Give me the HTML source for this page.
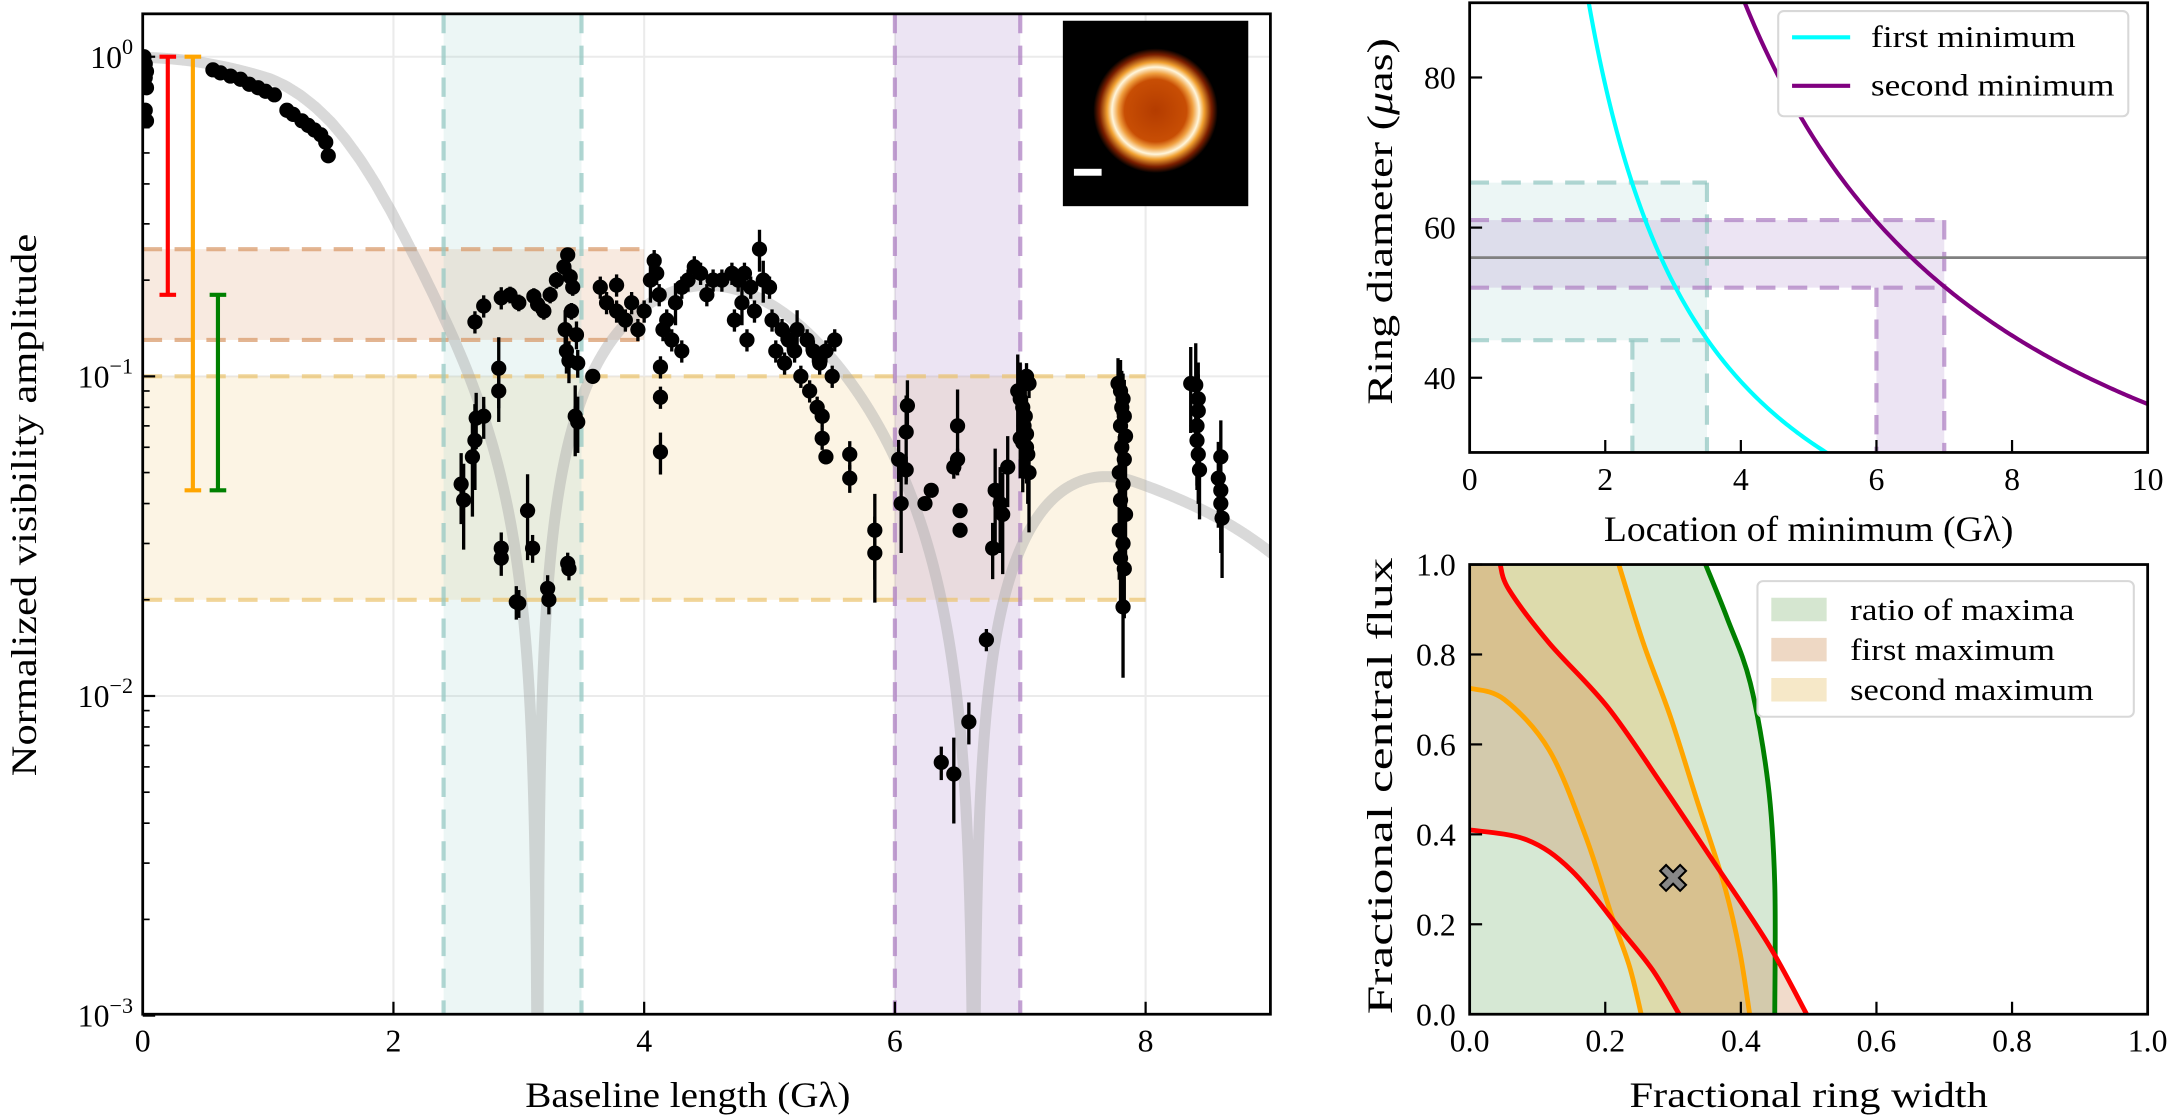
<!DOCTYPE html>
<html><head><meta charset="utf-8"><style>
html,body{margin:0;padding:0;background:#fff;width:2170px;height:1118px;overflow:hidden;}
svg{display:block;font-family:"Liberation Serif","DejaVu Serif",serif;}
</style></head><body>
<svg id="fig" xmlns="http://www.w3.org/2000/svg" width="2170" height="1118" viewBox="0 0 1568 808">
<defs>
<clipPath id="clipMain"><rect x="103" y="10" width="815" height="723"/></clipPath>
<clipPath id="clipTR"><rect x="1062" y="2" width="490" height="325"/></clipPath>
<clipPath id="clipBR"><rect x="1062" y="408" width="490" height="325"/></clipPath>
<radialGradient id="ringGrad" cx="0.5" cy="0.5" r="0.5">
<stop offset="0" stop-color="#b43c00"/><stop offset="0.5" stop-color="#c84e04"/>
<stop offset="0.6" stop-color="#f0a040"/><stop offset="0.7" stop-color="#fff6dc"/>
<stop offset="0.78" stop-color="#f0a030"/><stop offset="0.9" stop-color="#7a1e00"/>
<stop offset="1" stop-color="#000"/></radialGradient>
</defs>
<g id="main"></g>
<g id="tr"></g>
<g id="br"></g>
</svg>
<script>
// ---- main panel data ----
const ptsU = [0.01,0.02,0.03,0.02,0.03,0.02,0.03,0.56,0.62,0.70,0.78,0.85,0.92,0.98,1.05,1.15,1.20,1.27,1.32,1.37,1.42,1.46,1.48,
2.54,2.56,2.63,2.65,2.66,2.72,2.84,2.84,2.86,2.86,2.98,3.00,3.07,3.11,3.23,3.24,3.39,3.40,3.45,3.47,
2.65,2.72,2.86,2.93,3.00,3.12,3.15,3.20,3.25,3.30,3.36,3.39,3.41,3.43,3.42,3.37,3.38,3.40,3.47,3.46,3.59,
3.65,3.70,3.78,3.78,3.85,3.90,3.95,4.00,4.05,4.08,4.10,4.12,4.13,4.13,4.13,4.15,4.18,4.22,4.25,4.30,4.30,4.35,4.40,4.45,4.50,4.55,4.62,4.70,4.72,4.75,4.78,4.80,4.82,4.85,4.88,4.92,4.95,5.00,5.02,5.05,5.10,5.12,5.15,5.20,5.22,5.25,5.30,5.32,5.35,5.38,5.40,5.42,5.45,5.50,5.52,
5.42,5.45,5.64,5.64,5.84,5.84,6.03,6.09,6.09,6.05,6.10,
6.29,6.24,6.50,6.50,6.47,6.52,6.52,6.37,6.47,6.59,6.73,6.80,6.78,6.84,6.86,6.90,
6.98,7.00,7.02,7.04,7.03,7.05,7.02,7.05,7.06,7.00,7.07,7.05,7.07,
7.78,7.80,7.82,7.81,7.83,7.80,7.84,7.81,7.83,7.79,7.82,7.80,7.84,7.79,7.82,7.80,7.83,7.82,
8.36,8.40,8.42,8.42,8.41,8.41,8.42,8.43,8.60,8.58,8.60,8.60,8.61];
const ptsV = [1.0,0.95,0.90,0.86,0.80,0.68,0.63,0.91,0.89,0.87,0.85,0.82,0.80,0.78,0.76,0.68,0.66,0.63,0.61,0.59,0.57,0.54,0.49,
.046,.041,.056,.063,.074,.075,.106,.09,.029,.027,.0197,.0195,.038,.029,.0217,.020,.026,.025,.075,.072,
.148,.166,.176,.18,.17,.178,.168,.16,.18,.20,.22,.24,.205,.19,.16,.14,.12,.112,.11,.135,.10,
.19,.17,.193,.16,.15,.17,.14,.16,.20,.23,.21,.18,.058,.107,.086,.14,.15,.13,.17,.19,.12,.20,.22,.21,.18,.20,.20,.21,.15,.20,.17,.21,.13,.19,.16,.25,.20,.19,.15,.12,.14,.11,.13,.12,.14,.10,.13,.09,.12,.08,.11,.075,.12,.10,.13,
.064,.056,.057,.048,.033,.028,.055,.067,.051,.040,.081,
.044,.040,.070,.055,.052,.038,.033,.0062,.0057,.0083,.015,.044,.029,.040,.037,.052,
.09,.085,.08,.075,.07,.066,.062,.06,.057,.064,.05,.10,.095,
.095,.09,.085,.08,.075,.07,.065,.06,.055,.05,.046,.041,.037,.033,.03,.027,.025,.019,
.095,.094,.085,.078,.07,.063,.057,.051,.056,.048,.044,.040,.036];
const ptsE = [0,0,0,0,0,0,0,0,0,0,0,0,0,0,0,0,0,0,0,0,0,0,0,
.25,.3,.35,.3,.2,.15,.25,.2,.12,.12,.12,.1,.3,.1,.1,.1,.08,.08,.25,.2,
.08,.08,.08,.06,.06,.06,.06,.06,.06,.06,.06,.05,.06,.06,.06,.15,.15,.15,.1,.1,.05,
.08,.08,.08,.08,.08,.08,.08,.08,.15,.08,.08,.08,.15,.08,.08,.08,.08,.08,.15,.08,.08,.08,.08,.08,.08,.08,.08,.08,.08,.08,.15,.08,.08,.08,.08,.15,.15,.08,.08,.08,.08,.08,.08,.08,.15,.08,.08,.08,.08,.08,.08,.08,.08,.08,.08,
.08,.05,.1,.1,.3,.3,.15,.3,.1,.3,.2,
.05,.05,.3,.08,.08,.05,.05,.12,.3,.15,.08,.35,.2,.3,.35,.25,
.3,.3,.25,.3,.3,.3,.3,.2,.3,.25,.35,.1,.1,
.2,.25,.2,.3,.3,.3,.3,.3,.3,.3,.3,.3,.3,.3,.3,.3,.3,.4,
.3,.35,.3,.3,.35,.3,.3,.3,.3,.3,.3,.3,.35];
const modelPhaseU = [0,1.5,2.4,3.15,6.63,7.9,10.5];
const modelPhase = [0,0.23,0.38,0.5,1.5,2,2.5];
const envU = [0,1.5,2.4,3.15,4.8,6.63,7.9,9.2];
const envV = [1,0.95,0.38,0.3,0.19,0.075,0.046,0.034];
const xTicksMain = [0,2,4,6,8];
const yDecades = [0,-1,-2,-3];
const cyanBand = [2.4,3.5];
const purpleBand = [6.0,7.0];
const firstMaxBand = [0.13,0.25,4.0];
const secondMaxBand = [0.02,0.1,8.0];
const barsX = [0.2,0.4,0.6];
const barsLo = [0.18,0.044,0.044];
const barsHi = [1.0,1.0,0.18];
const barsColor = ['#ff0000','#ffa500','#008000'];

// ---- top-right data ----
const firstMinK = 158, secondMinK = 365, ringD = 56;
const trXTicks = [0,2,4,6,8,10];
const trYTicks = [40,60,80];
const trCyan = {d0:45,d1:66,u0:2.4,u1:3.5};
const trPurple = {d0:52,d1:61,u0:6.0,u1:7.0};

// ---- bottom-right data ----
const greenX = [0.348,0.38,0.414,0.44,0.45,0.45];
const greenY = [1.0,0.88,0.736,0.514,0.29,0.0];
const orOutX = [0.22,0.256,0.296,0.335,0.375,0.398,0.413];
const orOutY = [1.0,0.826,0.662,0.477,0.29,0.143,0.0];
const orInX = [0,0.051,0.117,0.17,0.21,0.236,0.253];
const orInY = [0.725,0.70,0.588,0.40,0.217,0.105,0.0];
const redOutX = [0.045,0.058,0.117,0.203,0.282,0.355,0.44,0.497];
const redOutY = [1.0,0.944,0.826,0.684,0.514,0.35,0.157,0.0];
const redInX = [0,0.084,0.15,0.223,0.27,0.309];
const redInY = [0.41,0.388,0.32,0.187,0.098,0.0];
const bestFit = [0.3,0.3];
const brTicks = [0,0.2,0.4,0.6,0.8,1.0];

const NS='http://www.w3.org/2000/svg';
const TICK=23, TITLE=26, LEG=22;
function mk(parent,tag,attrs,txt){const e=document.createElementNS(NS,tag);for(const k in attrs)e.setAttribute(k,attrs[k]);if(txt!==undefined)e.textContent=txt;parent.appendChild(e);return e;}
const main=document.getElementById('main'), tr=document.getElementById('tr'), br=document.getElementById('br');
const xM=u=>103+u*90.6, yM=v=>41-Math.log10(v)*231;
let el;

const mc=mk(main,'g',{'clip-path':'url(#clipMain)'});


for(const v of [1,0.1,0.01]){el=mk(mc,'line',{x1:103,x2:918,y1:yM(v),y2:yM(v),stroke:'#ebebeb','stroke-width':1.5});

}
for(const u of [2,4,6,8]){el=mk(mc,'line',{x1:xM(u),x2:xM(u),y1:10,y2:733,stroke:'#ebebeb','stroke-width':1.5});

}
el=mk(mc,'rect',{x:xM(0),y:yM(secondMaxBand[1]),width:xM(secondMaxBand[2])-xM(0),height:yM(secondMaxBand[0])-yM(secondMaxBand[1]),fill:'rgba(238,200,120,0.2)'});


el=mk(mc,'rect',{x:xM(0),y:yM(firstMaxBand[1]),width:xM(firstMaxBand[2])-xM(0),height:yM(firstMaxBand[0])-yM(firstMaxBand[1]),fill:'rgba(220,150,100,0.2)'});


el=mk(mc,'rect',{x:xM(cyanBand[0]),y:10,width:xM(cyanBand[1])-xM(cyanBand[0]),height:723,fill:'rgba(150,205,200,0.18)'});


el=mk(mc,'rect',{x:xM(purpleBand[0]),y:10,width:xM(purpleBand[1])-xM(purpleBand[0]),height:723,fill:'rgba(170,130,200,0.22)'});


const dash={'stroke-width':3,'stroke-dasharray':'14,9',fill:'none'};
function dl(p,x1,y1,x2,y2,c){return mk(p,'line',Object.assign({x1,y1,x2,y2,stroke:c},dash));}
for(const v of [secondMaxBand[0],secondMaxBand[1]]){el=dl(mc,xM(0),yM(v),xM(secondMaxBand[2]),yM(v),'rgba(235,195,110,0.7)');

}
for(const v of [firstMaxBand[0],firstMaxBand[1]]){el=dl(mc,xM(0),yM(v),xM(firstMaxBand[2]),yM(v),'rgba(215,150,100,0.7)');

}
for(const u of cyanBand){el=dl(mc,xM(u),10,xM(u),733,'rgba(150,200,195,0.75)');

}
for(const u of purpleBand){el=dl(mc,xM(u),10,xM(u),733,'rgba(175,130,195,0.75)');

}
function interp(xs,ys,x){if(x<=xs[0])return ys[0];for(let i=1;i<xs.length;i++){if(x<=xs[i]){const t=(x-xs[i-1])/(xs[i]-xs[i-1]);return ys[i-1]+t*(ys[i]-ys[i-1]);}}const n=xs.length;return ys[n-1]+(x-xs[n-1])*(ys[n-1]-ys[n-2])/(xs[n-1]-xs[n-2]);}
const envLog=envV.map(Math.log10);
function env(u){let s=0,n=0;for(let k=-4;k<=4;k++){s+=interp(envU,envLog,Math.max(0,u+k*0.12));n++;}return Math.pow(10,s/n);}
let d='';
for(let i=0;i<=1800;i++){const u=i*9.1/1800;const ph=interp(modelPhaseU,modelPhase,u)*Math.PI;let v=Math.abs(Math.cos(ph))*env(u);v=Math.max(v,1e-4);d+=(i?'L':'M')+xM(u).toFixed(2)+','+yM(v).toFixed(2);}
el=mk(mc,'path',{d,fill:'none',stroke:'rgba(170,170,170,0.45)','stroke-width':8});


for(let i=0;i<barsX.length;i++){const g=mk(main,'g',{stroke:barsColor[i],'stroke-width':3});


mk(g,'line',{x1:xM(barsX[i]),x2:xM(barsX[i]),y1:yM(barsHi[i]),y2:yM(barsLo[i])});
mk(g,'line',{x1:xM(barsX[i])-6,x2:xM(barsX[i])+6,y1:yM(barsHi[i]),y2:yM(barsHi[i])});
mk(g,'line',{x1:xM(barsX[i])-6,x2:xM(barsX[i])+6,y1:yM(barsLo[i]),y2:yM(barsLo[i])});}
for(let i=0;i<ptsU.length;i++){const x=xM(ptsU[i]),y=yM(ptsV[i]);
if(ptsE[i]>0){el=mk(mc,'line',{x1:x,x2:x,y1:yM(ptsV[i]*(1+ptsE[i])),y2:yM(ptsV[i]*(1-ptsE[i])),stroke:'#000','stroke-width':2.4});

}
el=mk(mc,'circle',{cx:x,cy:y,r:5.5,fill:'#000'});

}
const ins=mk(main,'g',{});


mk(ins,'rect',{x:768,y:15,width:134,height:134,fill:'#000'});
mk(ins,'circle',{cx:835,cy:80,r:45,fill:'url(#ringGrad)'});
el=mk(ins,'rect',{x:776,y:122,width:20,height:5,fill:'#fff'});


el=mk(main,'rect',{x:103,y:10,width:815,height:723,fill:'none',stroke:'#000','stroke-width':2});


for(const u of xTicksMain){mk(main,'line',{x1:xM(u),x2:xM(u),y1:733,y2:724,stroke:'#000','stroke-width':1.6});
el=mk(main,'text',{x:xM(u),y:760,'text-anchor':'middle','font-size':TICK},String(u));

}
for(const e of yDecades){const y=yM(Math.pow(10,e));mk(main,'line',{x1:103,x2:112,y1:y,y2:y,stroke:'#000','stroke-width':1.6});
el=mk(main,'text',{x:96,y:y+8,'text-anchor':'end','font-size':TICK});


mk(el,'tspan',{},'10');mk(el,'tspan',{dy:-10,'font-size':16},e===0?'0':'\u2212'+(-e));
if(e>-3)for(let m=2;m<=9;m++){const yy=yM(m*Math.pow(10,e-1));mk(main,'line',{x1:103,x2:108,y1:yy,y2:yy,stroke:'#000','stroke-width':1.2});}}
for(let m=2;m<=9;m++){const yy=yM(m);if(yy>10)mk(main,'line',{x1:103,x2:108,y1:yy,y2:yy,stroke:'#000','stroke-width':1.2});}
el=mk(main,'text',{x:497,y:800,'text-anchor':'middle','font-size':TITLE,textLength:235,lengthAdjust:'spacingAndGlyphs'},'Baseline length (G\u03bb)');


el=mk(main,'text',{x:0,y:0,'text-anchor':'middle','font-size':TITLE,textLength:392,lengthAdjust:'spacingAndGlyphs',transform:'translate(26,365) rotate(-90)'},'Normalized visibility amplitude');



// ---- top-right panel ----
const xT=u=>1062+u*49, yT=dd=>56+(80-dd)*5.425;
const tc=mk(tr,'g',{'clip-path':'url(#clipTR)'});


function bandPoly(b){return `${xT(0)},${yT(b.d0)} ${xT(0)},${yT(b.d1)} ${xT(b.u1)},${yT(b.d1)} ${xT(b.u1)},${yT(30)} ${xT(b.u0)},${yT(30)} ${xT(b.u0)},${yT(b.d0)}`;}
el=mk(tc,'polygon',{points:bandPoly(trCyan),fill:'rgba(150,205,200,0.18)'});


el=mk(tc,'polygon',{points:bandPoly(trPurple),fill:'rgba(170,130,200,0.22)'});


for(const [b,c] of [[trCyan,'rgba(150,200,195,0.75)'],[trPurple,'rgba(175,130,195,0.75)']]){
el=dl(tc,xT(0),yT(b.d1),xT(b.u1),yT(b.d1),c);

el=dl(tc,xT(0),yT(b.d0),xT(b.u1),yT(b.d0),c);

el=dl(tc,xT(b.u0),yT(b.d0),xT(b.u0),yT(30),c);

el=dl(tc,xT(b.u1),yT(b.d1),xT(b.u1),yT(30),c);
}
el=mk(tc,'line',{x1:1062,x2:1552,y1:yT(ringD),y2:yT(ringD),stroke:'#808080','stroke-width':2});


function hyp(k){let s='';for(let i=0;i<=300;i++){const u=1+i*9.5/300;s+=(i?'L':'M')+xT(u).toFixed(2)+','+yT(k/u).toFixed(2);}return s;}
el=mk(tc,'path',{d:hyp(firstMinK),fill:'none',stroke:'#00ffff','stroke-width':3});


el=mk(tc,'path',{d:hyp(secondMinK),fill:'none',stroke:'#800080','stroke-width':3});


el=mk(tr,'rect',{x:1062,y:2,width:490,height:325,fill:'none',stroke:'#000','stroke-width':2});


for(const u of trXTicks){mk(tr,'line',{x1:xT(u),x2:xT(u),y1:327,y2:318,stroke:'#000','stroke-width':1.6});
el=mk(tr,'text',{x:xT(u),y:354,'text-anchor':'middle','font-size':TICK},String(u));

}
for(const dd of trYTicks){mk(tr,'line',{x1:1062,x2:1071,y1:yT(dd),y2:yT(dd),stroke:'#000','stroke-width':1.6});
el=mk(tr,'text',{x:1052,y:yT(dd)+8,'text-anchor':'end','font-size':TICK},String(dd));

}
el=mk(tr,'text',{x:1307,y:391,'text-anchor':'middle','font-size':TITLE,textLength:296,lengthAdjust:'spacingAndGlyphs'},'Location of minimum (G\u03bb)');


el=mk(tr,'text',{x:0,y:0,'text-anchor':'middle','font-size':TITLE,textLength:265,lengthAdjust:'spacingAndGlyphs',transform:'translate(1006,160) rotate(-90)'});


mk(el,'tspan',{},'Ring diameter (');mk(el,'tspan',{'font-style':'italic'},'\u03bc');mk(el,'tspan',{},'as)');
const lg=mk(tr,'g',{});


mk(lg,'rect',{x:1285,y:8,width:253,height:76,rx:4,fill:'#fff',stroke:'#d8d8d8','stroke-width':1.5});
el=mk(lg,'line',{x1:1295,x2:1337,y1:27,y2:27,stroke:'#00ffff','stroke-width':3});


el=mk(lg,'text',{x:1352,y:34,'font-size':LEG,textLength:148,lengthAdjust:'spacingAndGlyphs'},'first minimum');


el=mk(lg,'line',{x1:1295,x2:1337,y1:62,y2:62,stroke:'#800080','stroke-width':3});


el=mk(lg,'text',{x:1352,y:69,'font-size':LEG,textLength:176,lengthAdjust:'spacingAndGlyphs'},'second minimum');



// ---- bottom-right panel ----
const xB=f=>1062+f*490, yB=f=>733-f*325;
function smooth(xs,ys){const P=xs.map((x,i)=>[xB(x),yB(ys[i])]);let s='M'+P[0][0].toFixed(2)+','+P[0][1].toFixed(2);
for(let i=0;i<P.length-1;i++){const p0=P[Math.max(0,i-1)],p1=P[i],p2=P[i+1],p3=P[Math.min(P.length-1,i+2)];
const c1=[p1[0]+(p2[0]-p0[0])/6,p1[1]+(p2[1]-p0[1])/6],c2=[p2[0]-(p3[0]-p1[0])/6,p2[1]-(p3[1]-p1[1])/6];
s+='C'+c1.map(v=>v.toFixed(2)).join(',')+' '+c2.map(v=>v.toFixed(2)).join(',')+' '+p2[0].toFixed(2)+','+p2[1].toFixed(2);}return s;}
function revs(xs,ys){return smooth(xs.slice().reverse(),ys.slice().reverse()).replace(/^M/,'L');}
const bc=mk(br,'g',{'clip-path':'url(#clipBR)'});


el=mk(bc,'path',{d:`M${xB(0)},${yB(0)}L${xB(0)},${yB(1)}`+smooth(greenX,greenY).replace(/^M/,'L')+'Z',fill:'rgba(70,150,60,0.22)'});


el=mk(bc,'path',{d:`M${xB(0)},${yB(1)}`+smooth(orOutX,orOutY).replace(/^M/,'L')+revs(orInX,orInY)+'Z',fill:'rgba(240,190,80,0.3)'});


el=mk(bc,'path',{d:`M${xB(0)},${yB(1)}`+smooth(redOutX,redOutY).replace(/^M/,'L')+revs(redInX,redInY)+'Z',fill:'rgba(205,125,70,0.28)'});


for(const [xs,ys,c,n] of [[greenX,greenY,'#008000','ratio-contour'],[orOutX,orOutY,'#ffa500','second-max-outer-contour'],[orInX,orInY,'#ffa500','second-max-inner-contour'],[redOutX,redOutY,'#ff0000','first-max-outer-contour'],[redInX,redInY,'#ff0000','first-max-inner-contour']]){
el=mk(bc,'path',{d:smooth(xs,ys),fill:'none',stroke:c,'stroke-width':3.5,'stroke-linejoin':'round'});

}
el=mk(br,'text',{x:xB(bestFit[0]),y:yB(bestFit[1])+9,'text-anchor':'middle','font-size':28,'font-family':'DejaVu Sans',fill:'#888',stroke:'#000','stroke-width':1.5,'font-weight':'bold'},'\u2716');


el=mk(br,'rect',{x:1062,y:408,width:490,height:325,fill:'none',stroke:'#000','stroke-width':2});


for(const f of brTicks){mk(br,'line',{x1:xB(f),x2:xB(f),y1:733,y2:724,stroke:'#000','stroke-width':1.6});
mk(br,'line',{x1:1062,x2:1071,y1:yB(f),y2:yB(f),stroke:'#000','stroke-width':1.6});
el=mk(br,'text',{x:xB(f),y:760,'text-anchor':'middle','font-size':TICK},f.toFixed(1));


el=mk(br,'text',{x:1052,y:yB(f)+8,'text-anchor':'end','font-size':TICK},f.toFixed(1));

}
el=mk(br,'text',{x:1307,y:800,'text-anchor':'middle','font-size':TITLE,textLength:259,lengthAdjust:'spacingAndGlyphs'},'Fractional ring width');


el=mk(br,'text',{x:0,y:0,'text-anchor':'middle','font-size':TITLE,textLength:330,lengthAdjust:'spacingAndGlyphs',transform:'translate(1006,568) rotate(-90)'},'Fractional central flux');


const lg2=mk(br,'g',{});


mk(lg2,'rect',{x:1270,y:420,width:272,height:98,rx:4,fill:'#fff',stroke:'#d8d8d8','stroke-width':1.5});
const lgItems=[['ratio of maxima','#d5e6d0',162],['first maximum','#eed8c4',148],['second maximum','#f6e8c8',176]];
for(let i=0;i<3;i++){el=mk(lg2,'rect',{x:1280,y:432+i*29,width:40,height:17,fill:lgItems[i][1]});


el=mk(lg2,'text',{x:1337,y:448+i*29,'font-size':LEG,textLength:lgItems[i][2],lengthAdjust:'spacingAndGlyphs'},lgItems[i][0]);

}
</script>
</body></html>
